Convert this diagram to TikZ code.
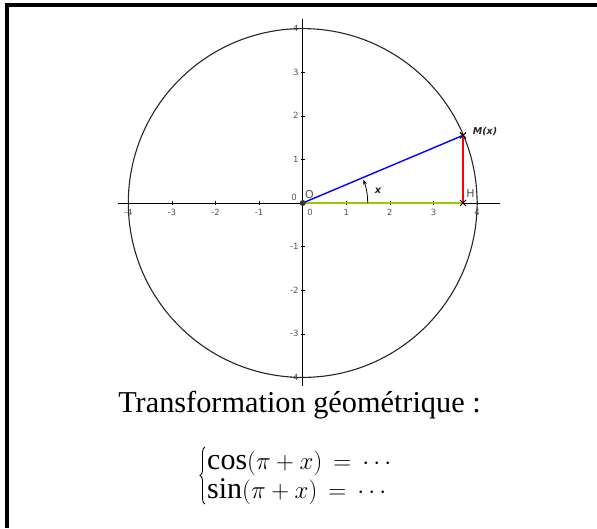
\documentclass[tikz,border=0pt]{standalone}
\usepackage{fontspec}
\setmainfont{Liberation Serif}
\newfontfamily\ticksfont{DejaVu Sans}
\usetikzlibrary{arrows.meta,calc,decorations.pathreplacing}
\definecolor{ggreen}{RGB}{153,204,0}
\definecolor{gblue}{RGB}{0,0,255}
\definecolor{gred}{RGB}{255,0,0}
\definecolor{tickgray}{RGB}{85,85,85}
\tikzset{
  ticklabel/.style={font=\ticksfont\fontsize{8.5}{9}\selectfont, text=tickgray, inner sep=0pt},
  ptlabel/.style={font=\ticksfont\bfseries\itshape\fontsize{9.5}{10}\selectfont, text=black!85, inner sep=0pt},
  axisline/.style={black, line width=0.8pt},
  crossmark/.style={line width=1pt, black},
  eqline/.style={font=\fontsize{30}{29}\selectfont, inner sep=0pt, anchor=base west},
}
\begin{document}
\begin{tikzpicture}[x=1pt,y=-1pt]
\useasboundingbox (0,0) rectangle (597,528);
% frame
\draw[line width=4pt] (7,528) -- (7,5) -- (597,5);
% axes
\coordinate (O) at (302.7,203);
\coordinate (xl) at (118,203);
\coordinate (xr) at (500,203);
\coordinate (yt) at (302.7,19);
\coordinate (yb) at (302.7,386);
\draw[axisline] (xl) -- (xr);
\draw[axisline] (yt) -- (yb);
\def\unitpx{43.6}
\foreach \k in {-4,-3,-2,-1,1,2,3,4}{
  \draw[axisline, line width=0.5pt] ($(O)+(\k*\unitpx,-2)$) -- ($(O)+(\k*\unitpx,2)$);
  \node[ticklabel] at ($(O)+(\k*\unitpx,9.5)$) {\k};
  \draw[axisline, line width=0.5pt] ($(O)+(-2,-\k*\unitpx)$) -- ($(O)+(2,-\k*\unitpx)$);
  \node[ticklabel, anchor=east] at ($(O)+(-4,-\k*\unitpx)$) {\k};
}
\node[ticklabel] (zx) at (310,212.5) {0};
\node[ticklabel] (zy) at (294,197) {0};
% circle
\draw[line width=1.1pt, black!85] (O) circle (174.4);
% points
\coordinate (M) at (463,135.4);
\coordinate (H) at (463,203);
\draw[ggreen, line width=1.8pt] (O) -- (H);
\draw[gblue, line width=1.4pt] (O) -- (M);
\draw[gred, line width=2pt] (M) -- (H);
\draw[black, line width=0.8pt, -{Stealth[length=5pt,width=4pt]}] ($(O)+(65,0)$) arc[start angle=0, end angle=-21, radius=65];
\foreach \p in {M,H}{
  \draw[crossmark] ($(\p)+(-3,-3)$) -- ($(\p)+(3,3)$);
  \draw[crossmark] ($(\p)+(-3,3)$) -- ($(\p)+(3,-3)$);
}
\fill[black!80] (O) circle (3);
% labels
\node[ptlabel, font=\ticksfont\bfseries\itshape\fontsize{10}{11}\selectfont] (lx) at (378,191) {x};
\node[ptlabel] (lM) at (485,132) {M(x)};
\node[ticklabel, font=\ticksfont\fontsize{11}{12}\selectfont] (lH) at (470.5,193) {H};
\node[ticklabel, font=\ticksfont\fontsize{11}{12}\selectfont] (lO) at (309.5,194) {O};
% texts
\node[anchor=base, font=\fontsize{30.3}{36}\selectfont, inner sep=0pt] (title) at (299.5,412) {Transformation géométrique :};
\node[eqline] (cosl) at (207,469) {$\cos(\pi+x)\,=\,\cdots$};
\node[eqline] (sinl) at (207,498) {$\sin(\pi+x)\,=\,\cdots$};
\coordinate (bb) at (205,504);
\coordinate (bt) at (205,447);
\draw[line width=0.9pt, decorate, decoration={brace, amplitude=5pt}] (bb) -- (bt);
\end{tikzpicture}
\end{document}
